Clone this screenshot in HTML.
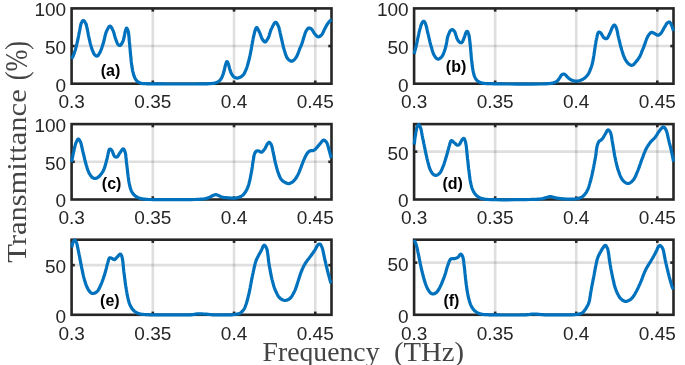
<!DOCTYPE html>
<html><head><meta charset="utf-8"><style>
html,body{margin:0;padding:0;background:#fff;width:685px;height:365px;overflow:hidden}
svg{display:block;will-change:transform}
.t{font-family:"Liberation Sans",sans-serif;font-size:19px;fill:#262626}
.p{font-family:"Liberation Sans",sans-serif;font-size:16px;font-weight:bold;fill:#000}
.s{font-family:"Liberation Serif",serif;font-size:27.5px;fill:#444}
</style></head><body>
<svg width="685" height="365" viewBox="0 0 685 365">
<g><line x1="152.82" y1="8.40" x2="152.82" y2="83.70" stroke="rgba(38,38,38,0.15)" stroke-width="2.6"/><line x1="234.04" y1="8.40" x2="234.04" y2="83.70" stroke="rgba(38,38,38,0.15)" stroke-width="2.6"/><line x1="315.26" y1="8.40" x2="315.26" y2="83.70" stroke="rgba(38,38,38,0.15)" stroke-width="2.6"/><line x1="71.60" y1="46.05" x2="331.50" y2="46.05" stroke="rgba(38,38,38,0.15)" stroke-width="2.6"/><rect x="71.60" y="8.40" width="259.90" height="75.30" fill="none" stroke="#262626" stroke-width="2.6"/><line x1="152.82" y1="8.40" x2="152.82" y2="11.60" stroke="#262626" stroke-width="2.6"/><line x1="152.82" y1="83.70" x2="152.82" y2="80.50" stroke="#262626" stroke-width="2.6"/><line x1="234.04" y1="8.40" x2="234.04" y2="11.60" stroke="#262626" stroke-width="2.6"/><line x1="234.04" y1="83.70" x2="234.04" y2="80.50" stroke="#262626" stroke-width="2.6"/><line x1="315.26" y1="8.40" x2="315.26" y2="11.60" stroke="#262626" stroke-width="2.6"/><line x1="315.26" y1="83.70" x2="315.26" y2="80.50" stroke="#262626" stroke-width="2.6"/><line x1="71.60" y1="46.05" x2="74.80" y2="46.05" stroke="#262626" stroke-width="2.6"/><line x1="331.50" y1="46.05" x2="328.30" y2="46.05" stroke="#262626" stroke-width="2.6"/><text x="71.60" y="108.40" text-anchor="middle" class="t">0.3</text><text x="152.82" y="108.40" text-anchor="middle" class="t">0.35</text><text x="234.04" y="108.40" text-anchor="middle" class="t">0.4</text><text x="315.26" y="108.40" text-anchor="middle" class="t">0.45</text><text x="66.20" y="91.60" text-anchor="end" class="t">0</text><text x="66.20" y="53.95" text-anchor="end" class="t">50</text><text x="66.20" y="16.30" text-anchor="end" class="t">100</text><path d="M71.6,58.8 71.8,58.3 72.1,57.9 72.3,57.5 72.6,57.0 72.8,56.6 73.0,56.1 73.3,55.6 73.5,55.1 73.8,54.4 74.1,53.7 74.3,52.9 74.6,52.2 74.8,51.4 75.1,50.6 75.4,49.7 75.6,48.9 75.9,47.9 76.1,47.0 76.4,46.0 76.6,44.9 76.9,43.9 77.1,42.8 77.4,41.8 77.6,40.7 77.9,39.5 78.1,38.2 78.4,36.8 78.7,35.5 78.9,34.2 79.2,32.9 79.4,31.6 79.7,30.4 79.9,29.4 80.1,28.4 80.2,27.4 80.4,26.5 80.6,25.6 80.8,24.7 81.0,23.9 81.3,23.2 81.5,22.7 81.7,22.3 82.0,21.8 82.2,21.4 82.5,21.1 82.8,20.8 83.0,20.6 83.3,20.5 83.5,20.5 83.8,20.7 84.1,20.9 84.3,21.2 84.6,21.5 84.9,21.9 85.1,22.3 85.3,22.6 85.5,23.0 85.7,23.4 85.9,23.8 86.0,24.2 86.2,24.7 86.3,25.2 86.5,25.7 86.6,26.2 86.8,27.1 87.0,28.0 87.2,29.0 87.5,30.1 87.7,31.2 87.9,32.3 88.1,33.4 88.3,34.5 88.5,35.6 88.8,36.8 89.0,37.9 89.3,39.1 89.5,40.2 89.8,41.3 90.0,42.4 90.3,43.5 90.6,44.4 90.8,45.4 91.1,46.3 91.4,47.2 91.6,48.1 91.9,48.9 92.2,49.7 92.5,50.5 92.7,51.1 93.0,51.6 93.2,52.2 93.4,52.7 93.7,53.2 93.9,53.7 94.2,54.1 94.5,54.5 94.8,54.8 95.1,55.1 95.4,55.4 95.7,55.6 96.0,55.9 96.4,56.0 96.7,56.1 97.0,56.1 97.4,56.0 97.7,55.7 98.1,55.4 98.4,54.9 98.8,54.4 99.1,53.8 99.5,53.3 99.8,52.7 100.3,51.8 100.7,50.8 101.2,49.7 101.6,48.6 102.0,47.3 102.4,46.1 102.8,44.8 103.2,43.6 103.6,42.1 104.0,40.5 104.4,38.8 104.8,37.1 105.2,35.4 105.6,33.8 106.1,32.4 106.6,31.1 107.0,30.3 107.4,29.4 107.8,28.6 108.3,27.8 108.7,27.1 109.1,26.6 109.6,26.2 110.0,26.1 110.4,26.2 110.7,26.5 111.1,26.9 111.5,27.4 111.8,28.0 112.1,28.7 112.5,29.4 112.8,30.0 113.2,31.0 113.6,32.0 114.0,33.2 114.3,34.4 114.6,35.7 115.0,36.9 115.3,38.1 115.7,39.1 116.0,39.9 116.3,40.7 116.6,41.5 116.9,42.3 117.2,43.0 117.5,43.6 117.8,44.2 118.2,44.6 118.4,44.8 118.6,45.0 118.9,45.2 119.1,45.3 119.3,45.4 119.5,45.5 119.8,45.5 120.0,45.5 120.4,45.3 120.7,45.0 121.1,44.6 121.5,44.0 121.9,43.4 122.2,42.8 122.6,42.1 122.9,41.4 123.3,40.3 123.7,39.0 124.0,37.6 124.3,36.1 124.6,34.6 124.8,33.3 125.1,32.0 125.4,31.0 125.6,30.5 125.7,30.0 125.8,29.6 126.0,29.1 126.1,28.8 126.3,28.5 126.4,28.3 126.6,28.2 126.8,28.2 126.9,28.4 127.1,28.6 127.3,29.0 127.5,29.3 127.7,29.7 127.8,30.2 128.0,30.6 128.3,31.7 128.5,33.0 128.7,34.5 128.9,36.2 129.1,37.9 129.2,39.7 129.3,41.4 129.5,43.0 129.7,44.5 129.8,46.0 129.9,47.6 130.1,49.1 130.2,50.6 130.3,52.1 130.5,53.6 130.6,55.0 130.7,56.3 130.9,57.6 131.0,58.9 131.1,60.1 131.2,61.4 131.4,62.6 131.5,63.8 131.7,65.0 131.9,66.1 132.0,67.1 132.2,68.1 132.4,69.1 132.5,70.1 132.7,71.1 133.0,72.1 133.2,73.0 133.4,73.8 133.6,74.6 133.9,75.4 134.1,76.1 134.4,76.8 134.7,77.5 135.0,78.2 135.3,78.8 135.6,79.3 135.9,79.7 136.2,80.1 136.5,80.5 136.9,80.9 137.2,81.3 137.6,81.6 138.0,81.9 138.4,82.2 138.8,82.4 139.2,82.6 139.7,82.8 140.1,83.0 140.6,83.1 141.0,83.2 141.5,83.4 142.0,83.5 142.6,83.6 143.1,83.6 143.7,83.6 144.3,83.7 144.9,83.7 145.4,83.7 146.0,83.7 146.5,83.8 146.9,83.8 147.3,83.8 147.7,83.8 148.2,83.8 148.7,83.8 149.3,83.8 150.0,83.8 154.3,83.9 160.7,83.9 168.6,84.0 177.2,84.0 185.9,84.0 193.9,84.0 200.5,83.9 205.0,83.8 205.9,83.8 206.6,83.8 207.3,83.8 207.8,83.8 208.4,83.7 208.9,83.7 209.4,83.7 210.0,83.6 210.7,83.6 211.3,83.5 212.0,83.5 212.6,83.4 213.3,83.4 214.0,83.3 214.6,83.2 215.2,83.0 215.8,82.8 216.3,82.6 216.9,82.4 217.4,82.1 218.0,81.8 218.5,81.5 219.0,81.2 219.4,80.8 219.8,80.4 220.2,80.0 220.5,79.6 220.8,79.1 221.1,78.7 221.4,78.2 221.7,77.6 222.0,77.1 222.3,76.4 222.6,75.7 222.9,74.9 223.2,74.1 223.4,73.3 223.6,72.4 223.9,71.6 224.1,70.8 224.3,70.0 224.5,69.2 224.7,68.4 224.9,67.6 225.0,66.8 225.2,66.0 225.4,65.3 225.6,64.6 225.8,64.1 225.9,63.6 226.1,63.1 226.2,62.7 226.4,62.3 226.6,61.9 226.7,61.7 226.9,61.6 227.1,61.6 227.2,61.8 227.4,62.0 227.6,62.2 227.7,62.5 227.9,62.8 228.0,63.2 228.2,63.5 228.4,64.1 228.6,64.7 228.8,65.4 229.0,66.2 229.2,67.0 229.4,67.8 229.6,68.6 229.8,69.3 230.0,70.0 230.3,70.7 230.5,71.4 230.7,72.0 231.0,72.7 231.3,73.3 231.6,73.9 231.9,74.5 232.2,74.9 232.5,75.3 232.8,75.7 233.1,76.1 233.4,76.5 233.8,76.8 234.1,77.1 234.5,77.3 234.9,77.5 235.2,77.7 235.6,77.8 236.0,77.9 236.4,78.0 236.8,78.1 237.2,78.1 237.6,78.1 238.1,78.0 238.5,77.9 239.0,77.8 239.5,77.6 240.0,77.3 240.5,77.1 240.9,76.9 241.3,76.6 241.6,76.4 241.9,76.1 242.2,75.9 242.5,75.6 242.8,75.4 243.0,75.1 243.3,74.8 243.5,74.5 243.8,74.1 244.0,73.8 244.2,73.4 244.5,73.0 244.7,72.6 244.9,72.2 245.1,71.7 245.3,71.3 245.5,70.8 245.8,70.3 246.0,69.7 246.2,69.1 246.5,68.6 246.7,68.0 246.9,67.4 247.1,66.8 247.3,66.1 247.5,65.4 247.7,64.7 247.9,64.0 248.1,63.3 248.3,62.5 248.5,61.8 248.7,61.1 248.9,60.4 249.0,59.7 249.2,59.0 249.4,58.3 249.5,57.6 249.7,56.9 249.8,56.2 250.0,55.5 250.2,54.7 250.3,54.0 250.5,53.2 250.6,52.4 250.8,51.6 250.9,50.8 251.1,50.0 251.2,49.2 251.4,48.3 251.5,47.4 251.7,46.5 251.8,45.6 252.0,44.7 252.2,43.8 252.3,42.9 252.5,42.0 252.7,41.2 252.8,40.4 253.0,39.5 253.1,38.7 253.3,37.9 253.5,37.2 253.6,36.4 253.8,35.6 254.0,34.9 254.1,34.2 254.3,33.5 254.5,32.7 254.6,32.1 254.8,31.4 255.0,30.8 255.2,30.2 255.4,29.8 255.5,29.3 255.7,28.9 255.8,28.5 256.0,28.1 256.2,27.8 256.4,27.6 256.6,27.5 256.9,27.6 257.3,28.0 257.6,28.5 258.0,29.2 258.4,30.0 258.8,30.8 259.1,31.6 259.5,32.3 259.9,33.1 260.2,34.0 260.5,34.9 260.9,35.8 261.2,36.7 261.5,37.6 261.9,38.4 262.3,39.1 262.6,39.6 262.9,40.1 263.3,40.6 263.6,41.0 264.0,41.4 264.3,41.7 264.7,41.9 265.0,42.0 265.4,41.9 265.8,41.6 266.2,41.2 266.6,40.6 267.0,40.0 267.4,39.3 267.8,38.7 268.2,38.0 268.7,37.0 269.1,36.0 269.4,34.8 269.8,33.6 270.1,32.4 270.5,31.1 270.9,30.0 271.4,28.9 271.9,27.9 272.4,26.8 272.9,25.7 273.5,24.7 274.0,23.8 274.6,23.0 275.1,22.5 275.6,22.3 276.0,22.4 276.3,22.6 276.6,23.0 277.0,23.4 277.3,24.0 277.6,24.6 277.9,25.2 278.2,25.8 278.7,26.9 279.1,28.2 279.4,29.6 279.8,31.2 280.1,32.8 280.5,34.4 280.8,36.0 281.2,37.5 281.6,39.1 281.9,40.7 282.3,42.3 282.7,44.0 283.1,45.6 283.4,47.2 283.9,48.7 284.3,50.2 284.7,51.4 285.1,52.6 285.4,53.8 285.8,55.0 286.3,56.1 286.7,57.1 287.2,58.0 287.8,58.8 288.2,59.3 288.7,59.7 289.2,60.2 289.7,60.5 290.3,60.8 290.8,61.1 291.3,61.2 291.8,61.2 292.3,61.1 292.9,60.8 293.4,60.4 294.0,60.0 294.5,59.4 295.0,58.8 295.5,58.2 296.0,57.6 296.6,56.7 297.1,55.6 297.6,54.5 298.1,53.2 298.5,52.0 299.0,50.8 299.4,49.6 299.8,48.6 300.1,47.9 300.4,47.2 300.7,46.6 301.0,46.0 301.2,45.3 301.5,44.7 301.7,44.1 302.0,43.4 302.3,42.6 302.5,41.8 302.8,41.0 303.0,40.1 303.3,39.3 303.5,38.4 303.7,37.6 304.0,36.8 304.2,36.1 304.5,35.3 304.7,34.6 304.9,33.9 305.2,33.2 305.4,32.5 305.7,31.9 306.0,31.3 306.3,30.8 306.6,30.3 306.9,29.7 307.3,29.3 307.6,28.8 308.0,28.4 308.3,28.2 308.7,28.0 309.0,28.0 309.4,28.0 309.7,28.1 310.0,28.2 310.4,28.4 310.7,28.6 311.1,28.8 311.4,29.1 311.9,29.5 312.3,30.1 312.7,30.7 313.1,31.4 313.6,32.1 314.0,32.8 314.4,33.4 314.9,34.0 315.3,34.4 315.7,34.9 316.1,35.4 316.6,35.8 317.0,36.2 317.4,36.5 317.9,36.7 318.3,36.8 318.7,36.8 319.1,36.7 319.6,36.5 320.0,36.2 320.4,35.9 320.8,35.6 321.2,35.2 321.6,34.8 322.1,34.2 322.5,33.6 322.9,32.8 323.3,32.0 323.7,31.2 324.0,30.4 324.4,29.6 324.8,28.8 325.2,28.1 325.6,27.3 326.0,26.6 326.4,25.8 326.8,25.1 327.2,24.4 327.6,23.8 328.0,23.2 328.3,22.8 328.7,22.3 329.0,21.9 329.3,21.5 329.7,21.2 330.0,20.9 330.3,20.6 330.6,20.4 330.7,20.3 330.9,20.3 331.0,20.2 331.1,20.2 331.2,20.2 331.4,20.2 331.5,20.1 331.6,20.1" fill="none" stroke="#0072bd" stroke-width="3.2" stroke-linejoin="round" stroke-linecap="butt"/><text x="100.70" y="76.30" class="p">(a)</text></g>
<g><line x1="495.16" y1="8.40" x2="495.16" y2="83.70" stroke="rgba(38,38,38,0.15)" stroke-width="2.6"/><line x1="576.23" y1="8.40" x2="576.23" y2="83.70" stroke="rgba(38,38,38,0.15)" stroke-width="2.6"/><line x1="657.29" y1="8.40" x2="657.29" y2="83.70" stroke="rgba(38,38,38,0.15)" stroke-width="2.6"/><line x1="414.10" y1="46.05" x2="673.50" y2="46.05" stroke="rgba(38,38,38,0.15)" stroke-width="2.6"/><rect x="414.10" y="8.40" width="259.40" height="75.30" fill="none" stroke="#262626" stroke-width="2.6"/><line x1="495.16" y1="8.40" x2="495.16" y2="11.60" stroke="#262626" stroke-width="2.6"/><line x1="495.16" y1="83.70" x2="495.16" y2="80.50" stroke="#262626" stroke-width="2.6"/><line x1="576.23" y1="8.40" x2="576.23" y2="11.60" stroke="#262626" stroke-width="2.6"/><line x1="576.23" y1="83.70" x2="576.23" y2="80.50" stroke="#262626" stroke-width="2.6"/><line x1="657.29" y1="8.40" x2="657.29" y2="11.60" stroke="#262626" stroke-width="2.6"/><line x1="657.29" y1="83.70" x2="657.29" y2="80.50" stroke="#262626" stroke-width="2.6"/><line x1="414.10" y1="46.05" x2="417.30" y2="46.05" stroke="#262626" stroke-width="2.6"/><line x1="673.50" y1="46.05" x2="670.30" y2="46.05" stroke="#262626" stroke-width="2.6"/><text x="414.10" y="108.40" text-anchor="middle" class="t">0.3</text><text x="495.16" y="108.40" text-anchor="middle" class="t">0.35</text><text x="576.23" y="108.40" text-anchor="middle" class="t">0.4</text><text x="657.29" y="108.40" text-anchor="middle" class="t">0.45</text><text x="408.70" y="91.60" text-anchor="end" class="t">0</text><text x="408.70" y="53.95" text-anchor="end" class="t">50</text><text x="408.70" y="16.30" text-anchor="end" class="t">100</text><path d="M414.2,53.8 414.5,52.5 414.8,51.2 415.2,49.9 415.5,48.6 415.8,47.3 416.1,45.9 416.5,44.6 416.8,43.2 417.2,41.5 417.5,39.8 417.9,38.0 418.3,36.2 418.7,34.4 419.0,32.7 419.4,31.1 419.8,29.6 420.1,28.6 420.4,27.6 420.6,26.6 420.9,25.7 421.2,24.9 421.5,24.1 421.8,23.4 422.1,22.8 422.3,22.5 422.5,22.2 422.6,22.0 422.8,21.8 423.0,21.6 423.2,21.4 423.4,21.3 423.6,21.3 423.8,21.3 424.0,21.4 424.2,21.6 424.4,21.7 424.5,22.0 424.7,22.2 424.9,22.5 425.1,22.8 425.5,23.7 425.9,24.9 426.3,26.3 426.7,27.8 427.0,29.4 427.4,31.1 427.7,32.7 428.1,34.2 428.5,35.7 428.8,37.2 429.2,38.8 429.6,40.3 429.9,41.8 430.3,43.3 430.7,44.8 431.1,46.2 431.5,47.4 431.8,48.7 432.1,49.9 432.5,51.1 432.9,52.3 433.3,53.4 433.7,54.4 434.2,55.3 434.6,55.9 435.0,56.6 435.5,57.2 435.9,57.8 436.4,58.3 436.9,58.7 437.4,59.0 437.9,59.1 438.4,59.1 438.8,59.0 439.3,58.8 439.8,58.5 440.3,58.1 440.8,57.7 441.3,57.3 441.7,56.8 442.3,56.0 442.8,55.0 443.4,53.9 443.8,52.8 444.3,51.5 444.7,50.2 445.1,49.0 445.5,47.7 445.9,46.3 446.2,44.8 446.5,43.2 446.8,41.7 447.0,40.1 447.3,38.7 447.6,37.3 448.0,36.0 448.3,35.1 448.6,34.3 449.0,33.4 449.3,32.6 449.7,31.9 450.0,31.2 450.4,30.7 450.8,30.3 451.0,30.1 451.2,30.0 451.4,29.9 451.6,29.8 451.9,29.7 452.1,29.7 452.3,29.7 452.5,29.7 452.8,29.8 453.0,29.9 453.3,30.1 453.6,30.3 453.8,30.6 454.1,30.9 454.4,31.3 454.6,31.6 455.0,32.3 455.3,33.2 455.6,34.2 455.9,35.2 456.3,36.3 456.6,37.3 456.9,38.3 457.3,39.1 457.6,39.6 457.9,40.2 458.3,40.7 458.6,41.2 459.0,41.6 459.3,42.0 459.7,42.3 460.0,42.5 460.2,42.6 460.5,42.7 460.7,42.7 460.9,42.7 461.1,42.7 461.4,42.7 461.6,42.6 461.8,42.5 462.2,42.1 462.6,41.6 462.9,40.9 463.2,40.1 463.6,39.2 463.9,38.4 464.2,37.5 464.5,36.8 464.8,36.1 465.0,35.4 465.2,34.7 465.5,33.9 465.7,33.2 465.9,32.6 466.2,32.2 466.4,31.8 466.5,31.7 466.6,31.6 466.7,31.5 466.9,31.4 467.0,31.4 467.1,31.4 467.2,31.4 467.3,31.4 467.5,31.5 467.7,31.7 467.8,32.0 468.0,32.3 468.1,32.6 468.3,33.0 468.5,33.5 468.6,33.9 468.9,34.9 469.1,36.0 469.3,37.3 469.5,38.7 469.7,40.2 469.9,41.8 470.0,43.3 470.2,44.8 470.4,46.6 470.6,48.5 470.7,50.4 470.9,52.4 471.1,54.4 471.2,56.3 471.4,58.2 471.6,60.0 471.8,61.4 471.9,62.8 472.1,64.2 472.2,65.5 472.4,66.8 472.6,68.1 472.8,69.3 473.0,70.5 473.2,71.4 473.4,72.3 473.6,73.2 473.8,74.0 474.0,74.8 474.2,75.6 474.5,76.3 474.8,77.0 475.1,77.5 475.3,78.1 475.6,78.6 475.9,79.0 476.2,79.5 476.6,79.9 476.9,80.3 477.3,80.7 477.7,81.0 478.0,81.3 478.4,81.6 478.8,81.8 479.2,82.0 479.6,82.3 480.1,82.5 480.5,82.6 481.0,82.8 481.5,83.0 482.1,83.1 482.7,83.2 483.2,83.3 483.8,83.3 484.4,83.4 485.0,83.5 485.6,83.5 486.1,83.6 486.6,83.6 487.1,83.7 487.7,83.7 488.4,83.7 489.1,83.7 490.0,83.7 494.4,83.8 500.8,83.9 508.6,84.0 517.0,84.1 525.6,84.1 533.5,84.1 540.2,84.0 545.0,83.8 546.2,83.8 547.3,83.7 548.3,83.7 549.1,83.6 549.9,83.5 550.7,83.4 551.4,83.3 552.2,83.1 552.8,83.0 553.5,82.8 554.1,82.6 554.7,82.5 555.3,82.2 555.8,82.0 556.3,81.7 556.8,81.4 557.2,81.1 557.6,80.7 557.9,80.3 558.3,79.9 558.6,79.4 558.9,79.0 559.2,78.5 559.5,78.1 559.8,77.7 560.1,77.2 560.3,76.8 560.6,76.4 560.9,75.9 561.1,75.5 561.4,75.2 561.7,74.9 561.9,74.7 562.2,74.5 562.4,74.4 562.6,74.3 562.9,74.1 563.1,74.1 563.4,74.0 563.6,74.0 563.8,74.0 564.1,74.1 564.3,74.2 564.5,74.3 564.7,74.4 565.0,74.6 565.2,74.7 565.4,74.9 565.7,75.1 565.9,75.4 566.2,75.7 566.5,76.0 566.7,76.3 567.0,76.6 567.3,76.9 567.6,77.2 568.0,77.5 568.4,77.9 568.8,78.3 569.3,78.6 569.7,79.0 570.2,79.3 570.7,79.6 571.2,79.9 571.7,80.1 572.3,80.4 572.9,80.6 573.4,80.8 574.0,80.9 574.6,81.0 575.2,81.1 575.8,81.2 576.4,81.2 576.9,81.2 577.5,81.1 578.1,81.0 578.7,80.9 579.2,80.8 579.8,80.6 580.3,80.4 580.8,80.3 581.3,80.1 581.8,79.8 582.3,79.6 582.8,79.3 583.3,79.0 583.7,78.7 584.2,78.4 584.7,78.0 585.2,77.6 585.7,77.1 586.2,76.6 586.7,76.1 587.2,75.5 587.6,75.0 588.0,74.4 588.4,73.8 588.8,73.2 589.1,72.5 589.4,71.8 589.7,71.2 590.0,70.5 590.3,69.7 590.6,69.0 590.9,68.1 591.2,67.3 591.5,66.4 591.8,65.4 592.1,64.5 592.3,63.5 592.6,62.5 592.8,61.5 593.1,60.2 593.3,58.9 593.5,57.5 593.8,56.1 594.0,54.7 594.2,53.3 594.4,51.9 594.6,50.5 594.8,49.1 595.0,47.7 595.2,46.3 595.4,44.9 595.7,43.5 595.9,42.1 596.1,40.8 596.4,39.5 596.6,38.4 596.9,37.3 597.1,36.2 597.3,35.1 597.6,34.1 597.9,33.2 598.2,32.6 598.6,32.2 598.8,32.1 599.1,32.1 599.3,32.1 599.6,32.2 599.8,32.3 600.1,32.5 600.4,32.6 600.6,32.8 601.0,33.2 601.4,33.7 601.7,34.4 602.1,35.1 602.5,35.8 602.9,36.5 603.3,37.1 603.7,37.5 604.0,37.8 604.4,38.0 604.8,38.2 605.2,38.4 605.5,38.6 605.9,38.7 606.3,38.7 606.6,38.6 607.1,38.3 607.5,37.9 607.9,37.3 608.3,36.5 608.7,35.8 609.1,34.9 609.4,34.1 609.8,33.4 610.2,32.6 610.6,31.7 611.0,30.7 611.3,29.8 611.7,28.8 612.1,28.0 612.4,27.2 612.8,26.6 613.0,26.3 613.2,26.0 613.4,25.7 613.6,25.5 613.8,25.3 614.0,25.1 614.2,25.0 614.4,25.0 614.6,25.1 614.9,25.3 615.1,25.5 615.3,25.9 615.5,26.3 615.8,26.7 616.0,27.2 616.2,27.7 616.6,28.7 616.9,30.0 617.3,31.4 617.6,32.9 617.9,34.5 618.2,36.1 618.6,37.6 618.9,39.1 619.3,40.5 619.6,42.0 620.0,43.4 620.3,44.9 620.7,46.3 621.1,47.8 621.5,49.1 621.9,50.5 622.3,51.7 622.7,52.9 623.0,54.1 623.4,55.3 623.9,56.4 624.3,57.5 624.8,58.5 625.3,59.5 625.8,60.3 626.2,61.0 626.7,61.7 627.3,62.4 627.8,63.1 628.3,63.6 628.9,64.1 629.4,64.5 629.8,64.7 630.2,64.9 630.6,65.1 631.0,65.2 631.3,65.3 631.7,65.3 632.1,65.3 632.5,65.2 633.0,65.0 633.5,64.7 633.9,64.2 634.4,63.7 634.9,63.2 635.3,62.6 635.8,62.0 636.2,61.5 636.6,61.0 637.1,60.5 637.5,59.9 637.9,59.4 638.3,58.8 638.7,58.2 639.1,57.6 639.5,57.0 639.9,56.3 640.3,55.5 640.6,54.7 641.0,53.8 641.3,53.0 641.6,52.1 642.0,51.3 642.3,50.5 642.6,49.8 642.9,49.0 643.2,48.3 643.5,47.6 643.8,46.9 644.1,46.1 644.3,45.4 644.6,44.7 644.9,44.0 645.1,43.2 645.3,42.5 645.6,41.8 645.8,41.1 646.1,40.3 646.3,39.7 646.6,39.0 646.8,38.5 647.1,37.9 647.3,37.4 647.6,36.9 647.8,36.4 648.1,35.9 648.4,35.4 648.7,35.0 649.0,34.6 649.3,34.2 649.7,33.8 650.0,33.4 650.4,33.0 650.7,32.7 651.1,32.5 651.5,32.4 651.9,32.4 652.3,32.4 652.7,32.6 653.1,32.8 653.5,33.0 653.9,33.2 654.3,33.4 654.7,33.6 655.1,33.8 655.5,34.1 655.9,34.3 656.3,34.6 656.7,34.8 657.0,35.0 657.4,35.2 657.8,35.2 658.2,35.2 658.6,35.0 658.9,34.9 659.3,34.6 659.7,34.4 660.1,34.1 660.4,33.7 660.8,33.4 661.3,32.8 661.8,32.1 662.2,31.3 662.7,30.5 663.2,29.6 663.6,28.8 664.0,28.0 664.5,27.2 664.9,26.6 665.3,25.9 665.7,25.3 666.1,24.6 666.4,24.0 666.8,23.5 667.2,23.1 667.6,22.7 667.8,22.5 668.1,22.4 668.3,22.2 668.6,22.1 668.8,22.0 669.1,22.0 669.3,22.0 669.5,22.0 669.8,22.1 670.0,22.3 670.2,22.6 670.5,23.0 670.7,23.3 670.9,23.8 671.1,24.2 671.3,24.6 671.6,25.3 671.9,26.0 672.2,26.8 672.4,27.6 672.7,28.5 673.0,29.3 673.2,30.2 673.5,31.0" fill="none" stroke="#0072bd" stroke-width="3.2" stroke-linejoin="round" stroke-linecap="butt"/><text x="445.80" y="71.50" class="p">(b)</text></g>
<g><line x1="152.82" y1="124.10" x2="152.82" y2="199.50" stroke="rgba(38,38,38,0.15)" stroke-width="2.6"/><line x1="234.04" y1="124.10" x2="234.04" y2="199.50" stroke="rgba(38,38,38,0.15)" stroke-width="2.6"/><line x1="315.26" y1="124.10" x2="315.26" y2="199.50" stroke="rgba(38,38,38,0.15)" stroke-width="2.6"/><line x1="71.60" y1="161.80" x2="331.50" y2="161.80" stroke="rgba(38,38,38,0.15)" stroke-width="2.6"/><rect x="71.60" y="124.10" width="259.90" height="75.40" fill="none" stroke="#262626" stroke-width="2.6"/><line x1="152.82" y1="124.10" x2="152.82" y2="127.30" stroke="#262626" stroke-width="2.6"/><line x1="152.82" y1="199.50" x2="152.82" y2="196.30" stroke="#262626" stroke-width="2.6"/><line x1="234.04" y1="124.10" x2="234.04" y2="127.30" stroke="#262626" stroke-width="2.6"/><line x1="234.04" y1="199.50" x2="234.04" y2="196.30" stroke="#262626" stroke-width="2.6"/><line x1="315.26" y1="124.10" x2="315.26" y2="127.30" stroke="#262626" stroke-width="2.6"/><line x1="315.26" y1="199.50" x2="315.26" y2="196.30" stroke="#262626" stroke-width="2.6"/><line x1="71.60" y1="161.80" x2="74.80" y2="161.80" stroke="#262626" stroke-width="2.6"/><line x1="331.50" y1="161.80" x2="328.30" y2="161.80" stroke="#262626" stroke-width="2.6"/><text x="71.60" y="224.20" text-anchor="middle" class="t">0.3</text><text x="152.82" y="224.20" text-anchor="middle" class="t">0.35</text><text x="234.04" y="224.20" text-anchor="middle" class="t">0.4</text><text x="315.26" y="224.20" text-anchor="middle" class="t">0.45</text><text x="66.20" y="207.40" text-anchor="end" class="t">0</text><text x="66.20" y="169.70" text-anchor="end" class="t">50</text><text x="66.20" y="132.00" text-anchor="end" class="t">100</text><path d="M71.6,162.0 71.9,160.7 72.1,159.3 72.4,157.9 72.7,156.6 72.9,155.2 73.2,153.9 73.5,152.6 73.8,151.3 74.1,150.1 74.3,148.9 74.6,147.7 74.9,146.4 75.2,145.3 75.5,144.2 75.8,143.2 76.2,142.3 76.5,141.7 76.7,141.2 77.0,140.6 77.3,140.1 77.6,139.7 77.8,139.3 78.1,139.1 78.4,139.0 78.6,139.1 78.9,139.2 79.1,139.5 79.4,139.8 79.6,140.2 79.9,140.6 80.1,141.1 80.3,141.5 80.7,142.4 81.0,143.4 81.3,144.6 81.6,145.9 81.9,147.2 82.2,148.6 82.5,150.0 82.8,151.3 83.2,152.9 83.6,154.5 84.0,156.2 84.4,157.9 84.8,159.7 85.2,161.3 85.7,163.0 86.1,164.5 86.5,165.8 86.9,167.0 87.2,168.2 87.6,169.4 88.0,170.6 88.5,171.7 88.9,172.7 89.4,173.6 89.8,174.2 90.2,174.9 90.6,175.5 91.0,176.0 91.4,176.5 91.8,177.0 92.3,177.4 92.7,177.7 93.0,177.9 93.3,178.1 93.6,178.2 93.9,178.3 94.2,178.4 94.6,178.5 94.9,178.5 95.2,178.5 95.6,178.4 96.0,178.3 96.4,178.2 96.8,178.0 97.2,177.8 97.7,177.5 98.1,177.2 98.5,176.9 99.1,176.3 99.8,175.7 100.5,174.9 101.1,174.1 101.8,173.2 102.4,172.2 103.0,171.3 103.5,170.3 104.0,169.1 104.5,167.9 104.9,166.5 105.3,165.2 105.7,163.8 106.1,162.4 106.4,161.0 106.8,159.6 107.2,158.1 107.5,156.5 107.9,154.8 108.2,153.1 108.6,151.6 108.9,150.4 109.3,149.4 109.8,149.0 110.0,149.0 110.3,149.0 110.5,149.2 110.8,149.3 111.1,149.6 111.3,149.8 111.6,150.1 111.8,150.4 112.2,151.0 112.5,151.7 112.8,152.6 113.2,153.5 113.5,154.4 113.8,155.2 114.2,155.9 114.6,156.4 114.9,156.6 115.1,156.8 115.4,156.9 115.7,157.0 116.0,157.1 116.3,157.1 116.6,157.1 116.9,157.0 117.3,156.8 117.7,156.4 118.0,155.9 118.4,155.4 118.7,154.7 119.1,154.1 119.4,153.5 119.8,153.0 120.2,152.4 120.7,151.8 121.1,151.1 121.6,150.4 122.0,149.8 122.4,149.3 122.8,149.0 123.2,148.9 123.5,149.0 123.7,149.2 124.0,149.5 124.2,149.9 124.4,150.3 124.6,150.8 124.8,151.3 125.0,151.8 125.3,152.8 125.6,154.1 125.8,155.5 125.9,156.9 126.1,158.5 126.3,160.1 126.4,161.7 126.6,163.2 126.8,164.9 127.0,166.6 127.2,168.3 127.4,170.1 127.6,171.8 127.8,173.6 128.0,175.2 128.2,176.8 128.4,178.1 128.6,179.3 128.7,180.5 128.9,181.7 129.1,182.8 129.3,183.9 129.6,185.0 129.8,186.0 130.0,186.8 130.2,187.6 130.4,188.4 130.7,189.1 130.9,189.8 131.2,190.5 131.5,191.2 131.8,191.8 132.1,192.3 132.4,192.8 132.7,193.3 133.0,193.7 133.4,194.1 133.7,194.5 134.1,194.9 134.5,195.3 134.9,195.6 135.3,196.0 135.7,196.3 136.1,196.5 136.5,196.8 136.9,197.1 137.4,197.3 137.8,197.5 138.3,197.7 138.8,197.9 139.3,198.1 139.8,198.3 140.4,198.4 140.9,198.6 141.4,198.7 142.0,198.8 142.6,198.9 143.2,199.0 143.9,199.1 144.5,199.2 145.2,199.2 145.8,199.3 146.4,199.3 147.0,199.4 147.4,199.4 147.7,199.4 148.0,199.5 148.3,199.5 148.6,199.5 149.0,199.5 149.5,199.5 150.0,199.5 153.3,199.6 158.3,199.6 164.4,199.7 171.2,199.7 178.1,199.7 184.8,199.7 190.5,199.6 195.0,199.5 196.6,199.4 198.1,199.4 199.5,199.3 200.8,199.2 202.0,199.1 203.1,199.0 204.2,198.9 205.2,198.7 205.9,198.5 206.6,198.3 207.3,198.1 208.0,197.9 208.6,197.7 209.2,197.4 209.7,197.2 210.3,196.9 210.7,196.7 211.1,196.5 211.5,196.3 211.9,196.1 212.3,195.8 212.7,195.6 213.0,195.5 213.4,195.3 213.7,195.2 214.0,195.1 214.3,195.0 214.7,194.9 215.0,194.8 215.3,194.7 215.6,194.7 215.9,194.7 216.2,194.7 216.5,194.8 216.8,194.9 217.2,195.0 217.5,195.1 217.8,195.2 218.1,195.4 218.5,195.5 219.0,195.7 219.4,195.9 219.9,196.2 220.4,196.4 220.9,196.7 221.5,196.9 222.0,197.1 222.6,197.3 223.3,197.4 224.0,197.6 224.8,197.6 225.6,197.7 226.4,197.7 227.2,197.8 227.9,197.8 228.7,197.9 229.4,197.9 230.2,198.0 230.9,198.0 231.6,198.1 232.4,198.1 233.1,198.1 233.8,198.1 234.5,198.1 235.2,198.0 235.8,198.0 236.4,197.9 237.1,197.8 237.7,197.6 238.3,197.5 238.9,197.3 239.5,197.1 240.0,196.8 240.6,196.6 241.1,196.3 241.6,196.0 242.1,195.6 242.6,195.3 243.1,194.9 243.5,194.5 243.9,194.1 244.3,193.6 244.7,193.1 245.0,192.6 245.4,192.1 245.7,191.6 246.0,191.0 246.3,190.5 246.6,189.9 246.9,189.3 247.2,188.7 247.4,188.1 247.7,187.5 247.9,186.8 248.2,186.2 248.4,185.5 248.7,184.7 248.9,183.9 249.1,183.0 249.4,182.1 249.6,181.2 249.8,180.3 250.0,179.4 250.2,178.5 250.4,177.5 250.6,176.5 250.8,175.4 251.0,174.3 251.2,173.3 251.4,172.2 251.6,171.1 251.8,170.0 252.0,168.8 252.2,167.5 252.4,166.2 252.5,164.9 252.7,163.6 252.9,162.4 253.1,161.2 253.3,160.0 253.5,159.1 253.6,158.2 253.7,157.3 253.9,156.4 254.0,155.6 254.2,154.9 254.4,154.1 254.7,153.5 254.9,153.1 255.1,152.7 255.3,152.3 255.5,152.0 255.8,151.7 256.0,151.4 256.3,151.2 256.6,151.0 256.9,150.9 257.2,150.9 257.5,150.8 257.8,150.9 258.1,150.9 258.4,151.0 258.7,151.0 259.0,151.1 259.3,151.2 259.6,151.4 259.9,151.6 260.2,151.8 260.5,152.0 260.8,152.1 261.1,152.2 261.4,152.2 261.8,152.1 262.2,151.8 262.7,151.4 263.1,151.0 263.5,150.5 263.9,149.9 264.3,149.4 264.7,148.9 265.1,148.3 265.5,147.6 265.9,146.8 266.3,146.0 266.6,145.3 267.0,144.6 267.3,144.0 267.7,143.5 267.9,143.3 268.1,143.0 268.3,142.8 268.5,142.6 268.7,142.5 268.9,142.4 269.1,142.3 269.3,142.3 269.6,142.4 269.8,142.6 270.1,142.8 270.3,143.1 270.6,143.5 270.8,143.9 271.1,144.4 271.3,144.8 271.6,145.6 271.9,146.5 272.2,147.5 272.4,148.5 272.6,149.6 272.8,150.8 273.1,151.9 273.3,153.0 273.6,154.2 273.8,155.4 274.1,156.7 274.3,157.9 274.6,159.2 274.8,160.4 275.1,161.7 275.4,162.9 275.7,164.1 276.0,165.2 276.3,166.4 276.6,167.5 276.9,168.6 277.2,169.7 277.5,170.8 277.9,171.9 278.3,172.9 278.6,173.9 279.0,174.9 279.3,175.9 279.8,176.8 280.2,177.7 280.7,178.6 281.2,179.3 281.7,179.9 282.2,180.4 282.8,180.9 283.4,181.4 284.0,181.8 284.7,182.2 285.2,182.5 285.8,182.8 286.2,183.0 286.6,183.2 286.9,183.3 287.3,183.4 287.7,183.5 288.0,183.6 288.4,183.6 288.8,183.6 289.3,183.5 289.7,183.4 290.2,183.2 290.7,183.0 291.2,182.8 291.6,182.5 292.1,182.3 292.5,182.0 292.9,181.7 293.2,181.5 293.5,181.2 293.8,180.9 294.1,180.5 294.4,180.2 294.7,179.9 295.0,179.5 295.3,179.1 295.7,178.6 296.0,178.1 296.3,177.6 296.6,177.1 296.9,176.6 297.2,176.0 297.5,175.5 297.8,175.0 298.1,174.4 298.3,173.9 298.6,173.3 298.9,172.7 299.1,172.2 299.4,171.6 299.6,171.0 299.8,170.4 300.1,169.8 300.3,169.2 300.5,168.6 300.7,168.0 301.0,167.4 301.2,166.8 301.4,166.2 301.6,165.7 301.8,165.1 302.0,164.6 302.2,164.1 302.4,163.6 302.6,163.0 302.8,162.5 303.0,162.0 303.2,161.5 303.4,161.0 303.6,160.5 303.8,160.0 304.0,159.5 304.3,159.0 304.5,158.5 304.7,158.0 304.9,157.5 305.1,157.0 305.4,156.6 305.6,156.1 305.8,155.6 306.1,155.2 306.3,154.7 306.6,154.3 306.9,153.9 307.1,153.5 307.4,153.2 307.6,152.8 307.9,152.5 308.2,152.1 308.5,151.8 308.8,151.6 309.1,151.4 309.3,151.3 309.6,151.1 309.9,151.0 310.2,150.9 310.4,150.8 310.7,150.8 311.0,150.7 311.3,150.7 311.5,150.6 311.8,150.7 312.0,150.7 312.3,150.7 312.5,150.7 312.8,150.7 313.0,150.6 313.3,150.5 313.6,150.4 313.8,150.2 314.1,150.1 314.4,149.9 314.7,149.7 314.9,149.5 315.2,149.3 315.4,149.1 315.7,148.9 315.9,148.6 316.1,148.4 316.3,148.1 316.5,147.9 316.8,147.6 317.0,147.3 317.4,146.9 317.8,146.4 318.2,146.0 318.6,145.5 319.0,145.0 319.4,144.5 319.9,144.0 320.3,143.5 320.7,143.0 321.1,142.5 321.5,141.9 321.9,141.4 322.4,140.9 322.8,140.5 323.2,140.2 323.6,140.1 324.0,140.1 324.3,140.3 324.7,140.5 325.1,140.8 325.5,141.1 325.8,141.5 326.2,141.9 326.5,142.3 326.9,143.0 327.3,143.8 327.6,144.7 327.9,145.7 328.2,146.7 328.5,147.7 328.7,148.7 329.0,149.7 329.3,150.7 329.6,151.8 329.9,152.8 330.1,153.9 330.4,154.9 330.7,156.0 330.9,157.0 331.2,158.1" fill="none" stroke="#0072bd" stroke-width="3.2" stroke-linejoin="round" stroke-linecap="butt"/><text x="101.80" y="189.40" class="p">(c)</text></g>
<g><line x1="495.16" y1="124.10" x2="495.16" y2="199.50" stroke="rgba(38,38,38,0.15)" stroke-width="2.6"/><line x1="576.23" y1="124.10" x2="576.23" y2="199.50" stroke="rgba(38,38,38,0.15)" stroke-width="2.6"/><line x1="657.29" y1="124.10" x2="657.29" y2="199.50" stroke="rgba(38,38,38,0.15)" stroke-width="2.6"/><line x1="414.10" y1="151.66" x2="673.50" y2="151.66" stroke="rgba(38,38,38,0.15)" stroke-width="2.6"/><rect x="414.10" y="124.10" width="259.40" height="75.40" fill="none" stroke="#262626" stroke-width="2.6"/><line x1="495.16" y1="124.10" x2="495.16" y2="127.30" stroke="#262626" stroke-width="2.6"/><line x1="495.16" y1="199.50" x2="495.16" y2="196.30" stroke="#262626" stroke-width="2.6"/><line x1="576.23" y1="124.10" x2="576.23" y2="127.30" stroke="#262626" stroke-width="2.6"/><line x1="576.23" y1="199.50" x2="576.23" y2="196.30" stroke="#262626" stroke-width="2.6"/><line x1="657.29" y1="124.10" x2="657.29" y2="127.30" stroke="#262626" stroke-width="2.6"/><line x1="657.29" y1="199.50" x2="657.29" y2="196.30" stroke="#262626" stroke-width="2.6"/><line x1="414.10" y1="151.66" x2="417.30" y2="151.66" stroke="#262626" stroke-width="2.6"/><line x1="673.50" y1="151.66" x2="670.30" y2="151.66" stroke="#262626" stroke-width="2.6"/><text x="414.10" y="224.20" text-anchor="middle" class="t">0.3</text><text x="495.16" y="224.20" text-anchor="middle" class="t">0.35</text><text x="576.23" y="224.20" text-anchor="middle" class="t">0.4</text><text x="657.29" y="224.20" text-anchor="middle" class="t">0.45</text><text x="408.70" y="207.40" text-anchor="end" class="t">0</text><text x="408.70" y="159.56" text-anchor="end" class="t">50</text><path d="M414.2,144.5 414.3,143.4 414.5,142.4 414.6,141.3 414.7,140.2 414.8,139.2 415.0,138.1 415.1,137.1 415.3,136.0 415.5,134.9 415.7,133.8 415.8,132.6 416.0,131.5 416.3,130.3 416.5,129.3 416.7,128.3 417.0,127.5 417.2,127.0 417.4,126.5 417.6,126.0 417.8,125.6 418.0,125.2 418.2,124.9 418.4,124.7 418.6,124.6 418.8,124.6 419.0,124.8 419.2,125.0 419.5,125.4 419.7,125.7 419.9,126.1 420.1,126.6 420.3,127.0 420.6,127.9 420.9,129.0 421.2,130.2 421.5,131.5 421.7,132.8 422.0,134.2 422.2,135.6 422.5,137.0 422.8,138.6 423.2,140.2 423.5,141.9 423.8,143.5 424.2,145.2 424.5,146.9 424.9,148.6 425.2,150.2 425.5,151.7 425.8,153.2 426.1,154.7 426.5,156.2 426.8,157.6 427.1,159.1 427.5,160.5 427.8,161.8 428.1,162.9 428.4,164.0 428.7,165.1 429.0,166.2 429.3,167.2 429.6,168.2 430.0,169.1 430.4,170.0 430.7,170.7 431.1,171.3 431.5,172.0 431.8,172.6 432.2,173.2 432.6,173.7 433.1,174.1 433.5,174.5 433.8,174.7 434.2,174.9 434.5,175.1 434.9,175.2 435.2,175.3 435.6,175.3 435.9,175.3 436.3,175.3 436.7,175.2 437.2,175.0 437.6,174.8 438.1,174.5 438.5,174.2 439.0,173.8 439.4,173.4 439.8,173.0 440.3,172.4 440.7,171.8 441.1,171.0 441.5,170.3 441.8,169.5 442.2,168.6 442.5,167.8 442.9,166.9 443.3,165.8 443.8,164.6 444.2,163.4 444.6,162.1 445.0,160.9 445.4,159.6 445.8,158.3 446.2,157.0 446.6,155.7 447.0,154.3 447.4,152.9 447.7,151.5 448.1,150.1 448.5,148.7 448.8,147.5 449.2,146.3 449.5,145.4 449.7,144.5 450.0,143.6 450.2,142.7 450.5,141.9 450.7,141.3 451.1,140.8 451.4,140.6 451.7,140.6 451.9,140.7 452.2,140.9 452.5,141.1 452.8,141.4 453.2,141.7 453.5,142.0 453.8,142.3 454.2,142.7 454.7,143.1 455.2,143.5 455.7,144.0 456.1,144.4 456.6,144.8 457.1,145.1 457.5,145.2 457.8,145.2 458.0,145.2 458.3,145.1 458.5,145.0 458.8,144.9 459.0,144.7 459.3,144.5 459.5,144.3 459.8,143.9 460.1,143.4 460.4,142.8 460.7,142.2 461.0,141.6 461.3,141.0 461.6,140.4 461.9,140.0 462.1,139.7 462.4,139.4 462.6,139.1 462.9,138.9 463.1,138.7 463.4,138.5 463.6,138.4 463.8,138.4 464.0,138.5 464.3,138.7 464.5,139.1 464.7,139.5 464.9,140.0 465.0,140.5 465.2,141.0 465.4,141.6 465.7,142.9 466.0,144.5 466.3,146.3 466.5,148.3 466.7,150.3 466.9,152.4 467.1,154.4 467.3,156.4 467.5,158.4 467.8,160.4 468.0,162.4 468.2,164.5 468.4,166.5 468.6,168.5 468.9,170.4 469.1,172.3 469.3,173.9 469.5,175.4 469.7,177.0 469.9,178.5 470.1,180.0 470.4,181.4 470.6,182.7 470.9,184.0 471.1,184.9 471.4,185.8 471.6,186.7 471.8,187.5 472.1,188.3 472.4,189.0 472.7,189.8 473.0,190.5 473.3,191.1 473.6,191.7 473.9,192.3 474.3,192.8 474.6,193.3 475.0,193.9 475.4,194.3 475.8,194.8 476.2,195.2 476.6,195.6 477.0,196.0 477.5,196.3 477.9,196.6 478.4,197.0 478.8,197.2 479.3,197.5 479.8,197.8 480.3,198.0 480.8,198.2 481.3,198.4 481.9,198.5 482.4,198.7 483.0,198.8 483.5,198.9 484.0,199.0 484.5,199.1 485.0,199.2 485.4,199.3 486.0,199.3 486.5,199.4 487.2,199.4 488.0,199.5 491.4,199.6 496.1,199.7 501.8,199.8 508.0,199.8 514.3,199.7 520.4,199.7 525.7,199.6 530.0,199.5 531.8,199.4 533.5,199.4 535.0,199.3 536.4,199.3 537.7,199.2 539.0,199.1 540.2,199.0 541.4,198.8 542.2,198.7 543.0,198.5 543.7,198.3 544.4,198.1 545.1,197.9 545.7,197.7 546.4,197.6 547.0,197.4 547.5,197.3 548.0,197.1 548.4,197.0 548.9,196.9 549.3,196.7 549.8,196.7 550.2,196.6 550.7,196.6 551.2,196.6 551.7,196.7 552.2,196.9 552.7,197.1 553.3,197.2 553.8,197.4 554.4,197.6 555.0,197.8 556.0,197.9 557.0,198.1 558.1,198.3 559.2,198.4 560.4,198.6 561.6,198.7 562.9,198.8 564.1,198.9 565.6,199.0 567.3,199.1 569.0,199.1 570.8,199.1 572.5,199.1 574.2,199.0 575.7,198.9 577.0,198.7 577.8,198.5 578.5,198.4 579.1,198.2 579.7,198.0 580.3,197.8 580.9,197.5 581.5,197.2 582.0,196.9 582.5,196.6 583.0,196.2 583.5,195.8 583.9,195.4 584.3,194.9 584.7,194.5 585.1,194.0 585.5,193.5 585.9,193.0 586.2,192.5 586.5,192.0 586.8,191.4 587.1,190.8 587.4,190.3 587.7,189.6 588.0,189.0 588.4,188.1 588.7,187.2 589.0,186.2 589.3,185.1 589.6,184.1 589.9,183.0 590.2,182.0 590.5,181.0 590.8,180.1 591.0,179.1 591.2,178.2 591.4,177.3 591.7,176.4 591.9,175.4 592.1,174.5 592.3,173.5 592.5,172.4 592.8,171.2 593.0,170.0 593.3,168.8 593.5,167.5 593.8,166.3 594.0,165.1 594.2,164.0 594.4,163.0 594.6,162.1 594.7,161.2 594.9,160.3 595.1,159.4 595.3,158.4 595.4,157.5 595.6,156.5 595.8,155.2 596.0,153.8 596.1,152.4 596.3,151.0 596.5,149.5 596.7,148.2 596.9,146.9 597.2,145.8 597.4,145.1 597.6,144.5 597.8,143.9 598.0,143.4 598.2,142.9 598.4,142.4 598.7,141.9 599.0,141.5 599.3,141.2 599.6,140.9 600.0,140.6 600.4,140.4 600.8,140.2 601.2,139.9 601.5,139.6 601.9,139.3 602.3,138.8 602.8,138.2 603.2,137.6 603.6,136.9 604.0,136.2 604.4,135.5 604.8,134.8 605.2,134.2 605.6,133.6 605.9,132.9 606.3,132.2 606.6,131.5 607.0,130.9 607.3,130.4 607.6,130.1 608.0,129.9 608.3,129.9 608.6,130.0 608.9,130.2 609.1,130.5 609.4,130.8 609.7,131.2 610.0,131.6 610.2,132.0 610.6,132.8 610.9,133.9 611.2,135.0 611.5,136.3 611.7,137.7 611.9,139.1 612.1,140.5 612.4,141.9 612.7,143.7 613.0,145.5 613.3,147.4 613.6,149.4 614.0,151.4 614.3,153.4 614.6,155.3 615.0,157.2 615.4,158.9 615.7,160.6 616.1,162.3 616.5,164.0 616.9,165.7 617.3,167.3 617.8,168.9 618.3,170.4 618.8,171.8 619.2,173.1 619.7,174.5 620.2,175.8 620.8,177.1 621.4,178.2 622.0,179.3 622.7,180.2 623.3,180.8 623.9,181.4 624.6,182.0 625.3,182.5 625.9,182.9 626.6,183.2 627.3,183.4 628.0,183.5 628.7,183.4 629.3,183.2 630.0,182.9 630.6,182.5 631.3,182.0 631.9,181.4 632.5,180.8 633.1,180.2 633.8,179.4 634.4,178.4 634.9,177.4 635.5,176.3 636.0,175.1 636.5,173.9 637.0,172.7 637.5,171.5 638.1,170.1 638.6,168.6 639.2,167.1 639.7,165.5 640.3,164.0 640.8,162.4 641.3,160.9 641.9,159.4 642.4,158.0 643.0,156.6 643.5,155.1 644.0,153.7 644.6,152.3 645.1,151.0 645.7,149.7 646.3,148.5 646.8,147.6 647.3,146.7 647.9,145.8 648.4,145.0 649.0,144.2 649.5,143.4 650.1,142.6 650.7,141.9 651.2,141.3 651.8,140.7 652.3,140.2 652.9,139.7 653.4,139.2 653.9,138.7 654.5,138.1 655.0,137.5 655.6,136.7 656.1,135.9 656.7,135.1 657.2,134.2 657.7,133.3 658.3,132.4 658.8,131.6 659.4,130.9 659.9,130.3 660.4,129.6 660.9,129.0 661.4,128.4 662.0,127.8 662.5,127.4 662.9,127.1 663.4,127.0 663.8,127.1 664.1,127.3 664.5,127.6 664.8,127.9 665.1,128.4 665.4,128.9 665.7,129.4 666.0,129.9 666.4,130.8 666.8,131.9 667.1,133.1 667.4,134.3 667.7,135.7 668.0,137.0 668.3,138.4 668.6,139.7 669.0,141.1 669.3,142.6 669.7,144.2 670.1,145.7 670.5,147.2 670.8,148.7 671.2,150.2 671.5,151.7 671.8,153.0 672.1,154.2 672.3,155.5 672.6,156.7 672.8,157.9 673.1,159.1 673.3,160.4 673.6,161.6" fill="none" stroke="#0072bd" stroke-width="3.2" stroke-linejoin="round" stroke-linecap="butt"/><text x="442.50" y="188.90" class="p">(d)</text></g>
<g><line x1="152.82" y1="239.70" x2="152.82" y2="314.80" stroke="rgba(38,38,38,0.15)" stroke-width="2.6"/><line x1="234.04" y1="239.70" x2="234.04" y2="314.80" stroke="rgba(38,38,38,0.15)" stroke-width="2.6"/><line x1="315.26" y1="239.70" x2="315.26" y2="314.80" stroke="rgba(38,38,38,0.15)" stroke-width="2.6"/><line x1="71.60" y1="265.13" x2="331.50" y2="265.13" stroke="rgba(38,38,38,0.15)" stroke-width="2.6"/><rect x="71.60" y="239.70" width="259.90" height="75.10" fill="none" stroke="#262626" stroke-width="2.6"/><line x1="152.82" y1="239.70" x2="152.82" y2="242.90" stroke="#262626" stroke-width="2.6"/><line x1="152.82" y1="314.80" x2="152.82" y2="311.60" stroke="#262626" stroke-width="2.6"/><line x1="234.04" y1="239.70" x2="234.04" y2="242.90" stroke="#262626" stroke-width="2.6"/><line x1="234.04" y1="314.80" x2="234.04" y2="311.60" stroke="#262626" stroke-width="2.6"/><line x1="315.26" y1="239.70" x2="315.26" y2="242.90" stroke="#262626" stroke-width="2.6"/><line x1="315.26" y1="314.80" x2="315.26" y2="311.60" stroke="#262626" stroke-width="2.6"/><line x1="71.60" y1="265.13" x2="74.80" y2="265.13" stroke="#262626" stroke-width="2.6"/><line x1="331.50" y1="265.13" x2="328.30" y2="265.13" stroke="#262626" stroke-width="2.6"/><text x="71.60" y="339.50" text-anchor="middle" class="t">0.3</text><text x="152.82" y="339.50" text-anchor="middle" class="t">0.35</text><text x="234.04" y="339.50" text-anchor="middle" class="t">0.4</text><text x="315.26" y="339.50" text-anchor="middle" class="t">0.45</text><text x="66.20" y="322.70" text-anchor="end" class="t">0</text><text x="66.20" y="273.03" text-anchor="end" class="t">50</text><path d="M71.6,247.5 71.8,246.8 72.0,246.1 72.2,245.3 72.3,244.6 72.5,243.8 72.7,243.2 73.0,242.5 73.2,242.0 73.4,241.7 73.5,241.3 73.7,241.0 73.9,240.7 74.1,240.5 74.3,240.3 74.5,240.1 74.7,240.1 74.9,240.2 75.1,240.3 75.3,240.5 75.5,240.8 75.7,241.1 75.9,241.5 76.1,241.9 76.3,242.3 76.7,243.2 77.0,244.4 77.3,245.6 77.6,247.1 77.9,248.5 78.2,250.0 78.5,251.5 78.8,253.0 79.1,254.6 79.5,256.2 79.8,257.9 80.1,259.6 80.4,261.3 80.7,263.0 81.1,264.6 81.4,266.3 81.7,267.9 82.1,269.5 82.4,271.1 82.7,272.7 83.1,274.3 83.4,275.8 83.8,277.4 84.2,278.8 84.5,280.0 84.9,281.2 85.2,282.4 85.6,283.5 86.0,284.6 86.3,285.6 86.8,286.7 87.2,287.6 87.6,288.3 88.0,289.1 88.3,289.8 88.8,290.4 89.2,291.0 89.6,291.6 90.0,292.1 90.5,292.5 90.8,292.7 91.2,293.0 91.5,293.1 91.9,293.3 92.2,293.4 92.6,293.5 92.9,293.5 93.3,293.5 93.8,293.4 94.3,293.3 94.8,293.0 95.4,292.8 95.9,292.4 96.4,292.1 96.9,291.6 97.4,291.2 98.0,290.5 98.5,289.8 99.0,288.9 99.4,288.0 99.9,287.0 100.3,286.0 100.8,285.0 101.2,284.0 101.7,282.8 102.2,281.5 102.7,280.1 103.2,278.8 103.7,277.4 104.1,276.0 104.6,274.6 105.0,273.2 105.4,271.8 105.8,270.3 106.2,268.8 106.6,267.3 106.9,265.8 107.3,264.4 107.7,263.1 108.0,262.0 108.2,261.3 108.4,260.7 108.5,260.1 108.7,259.5 108.9,258.9 109.1,258.5 109.3,258.1 109.6,257.9 109.8,257.8 110.1,257.8 110.4,257.8 110.6,257.9 110.9,258.0 111.2,258.1 111.5,258.2 111.8,258.3 112.1,258.4 112.4,258.6 112.8,258.9 113.1,259.1 113.4,259.3 113.8,259.5 114.1,259.6 114.4,259.6 114.8,259.5 115.2,259.2 115.5,258.9 115.9,258.5 116.3,258.1 116.7,257.6 117.0,257.2 117.4,256.8 117.8,256.4 118.2,256.0 118.5,255.5 118.9,255.1 119.3,254.7 119.7,254.4 120.0,254.2 120.3,254.1 120.5,254.2 120.8,254.4 121.0,254.6 121.2,254.9 121.4,255.3 121.6,255.7 121.7,256.1 121.9,256.6 122.2,257.8 122.5,259.4 122.8,261.2 123.0,263.1 123.2,265.2 123.4,267.3 123.6,269.4 123.8,271.4 124.1,273.6 124.4,275.9 124.7,278.3 125.0,280.6 125.3,283.0 125.6,285.3 126.0,287.4 126.3,289.5 126.6,291.0 126.8,292.5 127.1,294.0 127.3,295.4 127.6,296.7 127.9,298.0 128.2,299.3 128.5,300.5 128.8,301.4 129.0,302.3 129.3,303.2 129.6,304.0 129.9,304.8 130.3,305.6 130.6,306.3 131.0,307.0 131.3,307.6 131.7,308.1 132.0,308.6 132.4,309.1 132.8,309.5 133.2,310.0 133.6,310.4 134.0,310.8 134.4,311.2 134.9,311.5 135.3,311.9 135.8,312.2 136.3,312.5 136.8,312.8 137.3,313.0 137.8,313.3 138.3,313.5 138.8,313.6 139.3,313.8 139.8,313.9 140.4,314.0 140.9,314.1 141.5,314.2 142.0,314.3 142.6,314.4 143.2,314.4 143.9,314.5 144.5,314.5 145.2,314.6 145.8,314.6 146.4,314.6 147.0,314.7 147.4,314.7 147.7,314.7 148.0,314.7 148.3,314.7 148.7,314.8 149.0,314.8 149.5,314.8 150.0,314.8 153.2,314.8 158.0,314.9 163.9,314.9 170.3,314.9 176.7,314.9 182.5,314.9 187.1,314.8 190.0,314.8 190.4,314.8 190.7,314.8 190.9,314.8 191.1,314.8 191.3,314.7 191.5,314.7 191.7,314.7 192.0,314.7 192.7,314.6 193.5,314.5 194.3,314.3 195.2,314.2 196.2,314.1 197.1,313.9 198.1,313.8 199.0,313.8 199.9,313.8 200.7,313.8 201.6,313.8 202.5,313.9 203.3,314.0 204.2,314.0 205.1,314.1 206.0,314.2 206.9,314.2 207.9,314.3 208.8,314.4 209.7,314.5 210.7,314.6 211.7,314.7 212.8,314.8 214.0,314.8 216.2,314.9 218.9,314.9 221.8,314.9 224.8,314.9 227.8,314.9 230.5,314.8 233.0,314.6 235.0,314.4 235.8,314.3 236.5,314.2 237.2,314.1 237.8,314.0 238.4,313.8 238.9,313.7 239.5,313.4 240.0,313.2 240.6,312.8 241.1,312.4 241.6,312.0 242.1,311.5 242.6,311.0 243.0,310.5 243.5,309.9 243.9,309.3 244.4,308.5 244.8,307.7 245.2,306.8 245.5,305.9 245.8,305.0 246.2,304.0 246.5,303.0 246.8,302.0 247.2,300.8 247.5,299.6 247.8,298.4 248.1,297.2 248.4,295.9 248.7,294.6 249.0,293.3 249.3,292.0 249.6,290.6 249.9,289.2 250.2,287.7 250.4,286.3 250.7,284.8 251.0,283.3 251.2,281.9 251.5,280.5 251.8,279.2 252.0,277.9 252.3,276.6 252.5,275.3 252.8,274.1 253.1,272.8 253.3,271.6 253.6,270.4 253.8,269.3 254.1,268.2 254.3,267.1 254.6,266.0 254.8,264.9 255.1,263.9 255.3,262.9 255.6,262.0 255.8,261.3 256.1,260.7 256.3,260.2 256.5,259.6 256.8,259.0 257.0,258.5 257.3,257.9 257.6,257.3 258.0,256.5 258.4,255.8 258.8,255.0 259.2,254.2 259.7,253.4 260.1,252.6 260.6,251.8 261.0,251.0 261.4,250.2 261.8,249.3 262.2,248.3 262.6,247.4 263.0,246.5 263.4,245.9 263.8,245.4 264.2,245.2 264.5,245.3 264.8,245.5 265.1,245.8 265.5,246.2 265.8,246.7 266.1,247.3 266.3,247.9 266.6,248.5 267.1,249.9 267.4,251.6 267.7,253.6 268.0,255.8 268.3,258.0 268.5,260.3 268.8,262.4 269.1,264.5 269.4,266.4 269.8,268.3 270.1,270.2 270.5,272.1 270.8,273.9 271.2,275.8 271.6,277.6 272.0,279.3 272.4,280.8 272.8,282.3 273.2,283.8 273.6,285.3 274.0,286.7 274.5,288.1 275.0,289.4 275.5,290.7 276.0,291.8 276.5,292.8 277.0,293.9 277.5,294.9 278.1,295.9 278.7,296.7 279.3,297.5 280.0,298.2 280.6,298.7 281.2,299.1 281.8,299.5 282.4,299.8 283.1,300.1 283.7,300.3 284.4,300.5 285.0,300.5 285.7,300.5 286.3,300.3 287.0,300.1 287.7,299.8 288.3,299.5 289.0,299.1 289.6,298.7 290.2,298.2 290.9,297.5 291.5,296.7 292.1,295.8 292.7,294.8 293.3,293.8 293.8,292.8 294.3,291.7 294.8,290.7 295.3,289.6 295.7,288.5 296.1,287.4 296.5,286.2 296.9,285.1 297.2,283.9 297.6,282.7 298.0,281.5 298.4,280.2 298.8,278.9 299.3,277.6 299.7,276.2 300.1,274.9 300.6,273.6 301.0,272.3 301.5,271.1 302.0,270.0 302.4,268.9 302.9,267.9 303.4,266.8 303.9,265.8 304.5,264.8 305.0,263.9 305.6,262.9 306.2,262.0 306.8,261.2 307.4,260.3 308.0,259.5 308.7,258.7 309.3,257.9 309.9,257.1 310.5,256.3 311.0,255.6 311.6,254.9 312.1,254.1 312.6,253.4 313.1,252.7 313.6,252.0 314.1,251.3 314.6,250.6 315.0,249.9 315.5,249.1 315.9,248.2 316.3,247.4 316.7,246.7 317.1,246.0 317.5,245.4 317.9,244.9 318.1,244.7 318.4,244.5 318.7,244.3 318.9,244.2 319.2,244.0 319.4,244.0 319.7,244.0 319.9,244.0 320.2,244.2 320.5,244.4 320.8,244.8 321.0,245.2 321.3,245.7 321.5,246.2 321.8,246.7 322.0,247.3 322.4,248.3 322.7,249.5 323.0,250.8 323.3,252.2 323.6,253.6 323.9,255.1 324.2,256.6 324.5,258.0 324.8,259.5 325.2,261.0 325.6,262.5 325.9,264.1 326.3,265.6 326.6,267.2 327.0,268.7 327.4,270.3 327.8,271.9 328.2,273.5 328.7,275.2 329.1,276.8 329.6,278.5 330.0,280.1 330.5,281.8 330.9,283.4" fill="none" stroke="#0072bd" stroke-width="3.2" stroke-linejoin="round" stroke-linecap="butt"/><text x="100.10" y="306.30" class="p">(e)</text></g>
<g><line x1="495.16" y1="239.70" x2="495.16" y2="314.80" stroke="rgba(38,38,38,0.15)" stroke-width="2.6"/><line x1="576.23" y1="239.70" x2="576.23" y2="314.80" stroke="rgba(38,38,38,0.15)" stroke-width="2.6"/><line x1="657.29" y1="239.70" x2="657.29" y2="314.80" stroke="rgba(38,38,38,0.15)" stroke-width="2.6"/><line x1="414.10" y1="262.65" x2="673.50" y2="262.65" stroke="rgba(38,38,38,0.15)" stroke-width="2.6"/><rect x="414.10" y="239.70" width="259.40" height="75.10" fill="none" stroke="#262626" stroke-width="2.6"/><line x1="495.16" y1="239.70" x2="495.16" y2="242.90" stroke="#262626" stroke-width="2.6"/><line x1="495.16" y1="314.80" x2="495.16" y2="311.60" stroke="#262626" stroke-width="2.6"/><line x1="576.23" y1="239.70" x2="576.23" y2="242.90" stroke="#262626" stroke-width="2.6"/><line x1="576.23" y1="314.80" x2="576.23" y2="311.60" stroke="#262626" stroke-width="2.6"/><line x1="657.29" y1="239.70" x2="657.29" y2="242.90" stroke="#262626" stroke-width="2.6"/><line x1="657.29" y1="314.80" x2="657.29" y2="311.60" stroke="#262626" stroke-width="2.6"/><line x1="414.10" y1="262.65" x2="417.30" y2="262.65" stroke="#262626" stroke-width="2.6"/><line x1="673.50" y1="262.65" x2="670.30" y2="262.65" stroke="#262626" stroke-width="2.6"/><text x="414.10" y="339.50" text-anchor="middle" class="t">0.3</text><text x="495.16" y="339.50" text-anchor="middle" class="t">0.35</text><text x="576.23" y="339.50" text-anchor="middle" class="t">0.4</text><text x="657.29" y="339.50" text-anchor="middle" class="t">0.45</text><text x="408.70" y="322.70" text-anchor="end" class="t">0</text><text x="408.70" y="270.55" text-anchor="end" class="t">50</text><path d="M414.3,240.0 414.5,240.6 414.8,241.2 415.0,241.7 415.3,242.3 415.5,242.9 415.7,243.5 416.0,244.1 416.2,244.8 416.5,245.8 416.8,247.0 417.1,248.2 417.4,249.4 417.7,250.7 417.9,252.0 418.2,253.3 418.5,254.6 418.8,256.1 419.1,257.6 419.4,259.2 419.7,260.7 420.0,262.3 420.3,263.9 420.7,265.5 421.0,267.0 421.3,268.5 421.7,270.0 422.0,271.5 422.4,272.9 422.8,274.4 423.1,275.8 423.5,277.2 423.9,278.6 424.2,279.8 424.6,281.0 424.9,282.1 425.3,283.2 425.7,284.3 426.0,285.4 426.5,286.4 426.9,287.4 427.3,288.2 427.7,289.0 428.1,289.7 428.6,290.5 429.0,291.2 429.5,291.8 429.9,292.3 430.4,292.8 430.7,293.1 431.0,293.3 431.4,293.5 431.7,293.7 432.0,293.8 432.4,293.9 432.7,294.0 433.1,294.0 433.5,294.0 434.0,293.8 434.4,293.7 434.9,293.5 435.4,293.2 435.8,292.9 436.3,292.6 436.7,292.2 437.2,291.7 437.7,291.1 438.1,290.5 438.5,289.7 439.0,289.0 439.4,288.2 439.8,287.4 440.2,286.6 440.7,285.5 441.3,284.4 441.8,283.2 442.3,281.9 442.8,280.7 443.3,279.4 443.8,278.1 444.3,276.8 444.8,275.4 445.2,274.0 445.7,272.5 446.1,271.0 446.5,269.5 446.9,268.1 447.3,266.8 447.8,265.5 448.1,264.5 448.5,263.6 448.8,262.6 449.1,261.7 449.5,260.8 449.9,260.1 450.3,259.5 450.8,259.0 451.2,258.8 451.7,258.7 452.1,258.6 452.6,258.6 453.1,258.7 453.6,258.7 454.1,258.7 454.6,258.6 455.0,258.5 455.5,258.4 455.9,258.2 456.4,258.1 456.8,257.9 457.2,257.7 457.6,257.5 458.0,257.2 458.4,256.9 458.7,256.4 459.1,255.9 459.4,255.4 459.8,255.0 460.1,254.6 460.4,254.3 460.7,254.2 460.9,254.2 461.2,254.4 461.4,254.5 461.7,254.8 461.9,255.1 462.1,255.4 462.3,255.7 462.5,256.1 462.8,257.0 463.1,258.1 463.4,259.3 463.6,260.7 463.8,262.2 463.9,263.7 464.1,265.3 464.3,266.8 464.6,268.9 464.8,271.1 465.0,273.4 465.3,275.8 465.5,278.2 465.8,280.5 466.0,282.8 466.3,285.0 466.6,286.8 466.8,288.6 467.1,290.4 467.4,292.1 467.7,293.8 468.0,295.4 468.3,297.0 468.7,298.5 469.0,299.6 469.3,300.7 469.6,301.8 470.0,302.8 470.3,303.8 470.7,304.8 471.1,305.7 471.5,306.5 471.9,307.1 472.2,307.7 472.6,308.3 473.0,308.9 473.5,309.4 473.9,309.9 474.3,310.4 474.8,310.8 475.2,311.2 475.7,311.5 476.1,311.9 476.6,312.2 477.0,312.5 477.5,312.8 478.0,313.0 478.5,313.3 479.0,313.5 479.5,313.7 480.1,313.8 480.6,314.0 481.2,314.1 481.8,314.2 482.4,314.3 483.0,314.4 483.8,314.5 484.5,314.6 485.3,314.7 486.1,314.7 486.9,314.7 487.8,314.7 488.9,314.8 490.0,314.8 493.4,314.9 497.7,314.9 502.7,315.0 508.0,315.0 513.3,315.0 518.3,315.0 522.6,314.9 526.0,314.8 527.1,314.7 528.2,314.6 529.1,314.5 529.9,314.4 530.7,314.3 531.5,314.2 532.2,314.1 533.0,314.0 533.7,314.0 534.3,314.0 534.9,314.1 535.5,314.1 536.1,314.2 536.7,314.2 537.3,314.2 538.0,314.3 538.8,314.3 539.7,314.4 540.6,314.5 541.5,314.6 542.4,314.6 543.3,314.7 544.2,314.8 545.0,314.8 545.6,314.8 546.2,314.8 546.8,314.8 547.3,314.8 547.9,314.8 548.5,314.8 549.2,314.8 550.0,314.8 552.5,314.8 555.7,314.9 559.5,314.9 563.4,314.9 567.4,314.9 571.2,314.9 574.5,314.7 577.0,314.4 577.9,314.3 578.7,314.1 579.5,313.9 580.2,313.7 580.8,313.5 581.4,313.3 581.9,313.0 582.5,312.6 583.0,312.3 583.4,311.9 583.8,311.5 584.2,311.0 584.5,310.6 584.9,310.1 585.2,309.5 585.6,309.0 586.1,308.3 586.5,307.5 587.0,306.7 587.4,305.9 587.9,305.1 588.3,304.2 588.7,303.2 589.0,302.3 589.3,301.1 589.6,299.9 589.8,298.6 590.0,297.3 590.2,296.0 590.4,294.7 590.6,293.3 590.8,292.0 591.1,290.6 591.3,289.3 591.6,287.9 591.8,286.5 592.1,285.1 592.4,283.7 592.6,282.4 592.9,281.0 593.2,279.7 593.4,278.3 593.7,277.0 593.9,275.6 594.2,274.3 594.4,273.0 594.7,271.7 594.9,270.4 595.1,269.3 595.3,268.2 595.5,267.1 595.7,266.0 596.0,264.9 596.2,263.9 596.4,262.9 596.6,262.0 596.8,261.3 596.9,260.7 597.1,260.0 597.2,259.4 597.4,258.8 597.6,258.2 597.8,257.6 598.0,257.0 598.3,256.4 598.5,255.7 598.8,255.1 599.2,254.5 599.5,253.8 599.8,253.2 600.2,252.6 600.5,252.0 600.8,251.4 601.2,250.8 601.5,250.2 601.8,249.6 602.2,249.0 602.5,248.5 602.9,248.0 603.2,247.5 603.5,247.2 603.7,246.8 604.0,246.4 604.3,246.1 604.5,245.8 604.8,245.6 605.0,245.4 605.3,245.4 605.6,245.5 605.9,245.7 606.2,246.0 606.5,246.5 606.7,246.9 607.0,247.5 607.3,248.0 607.5,248.6 607.9,249.8 608.2,251.3 608.5,253.0 608.8,254.8 609.0,256.7 609.2,258.6 609.5,260.5 609.8,262.3 610.1,264.2 610.5,266.2 610.8,268.3 611.2,270.3 611.6,272.3 612.0,274.3 612.4,276.3 612.8,278.2 613.2,279.9 613.6,281.5 613.9,283.2 614.3,284.8 614.7,286.3 615.2,287.8 615.7,289.3 616.2,290.7 616.7,291.8 617.2,293.0 617.7,294.0 618.3,295.1 618.8,296.1 619.4,297.0 620.0,297.9 620.7,298.6 621.2,299.1 621.8,299.6 622.3,300.1 622.9,300.5 623.5,300.8 624.1,301.1 624.7,301.3 625.3,301.4 626.0,301.4 626.7,301.3 627.4,301.1 628.2,300.8 628.9,300.4 629.7,300.0 630.3,299.6 631.0,299.1 631.7,298.4 632.4,297.7 633.1,296.8 633.7,295.9 634.3,295.0 634.9,294.0 635.4,293.0 636.0,292.0 636.6,291.0 637.1,289.9 637.7,288.8 638.2,287.7 638.7,286.6 639.2,285.4 639.8,284.2 640.3,283.0 641.0,281.4 641.6,279.8 642.3,278.1 642.9,276.3 643.6,274.6 644.3,272.9 645.0,271.2 645.7,269.7 646.3,268.5 647.0,267.3 647.7,266.2 648.3,265.1 649.0,264.0 649.7,262.9 650.4,261.9 651.0,260.8 651.6,259.8 652.2,258.8 652.8,257.7 653.3,256.7 653.9,255.7 654.4,254.8 655.0,253.8 655.5,252.8 656.0,251.9 656.4,250.9 656.9,249.8 657.3,248.8 657.8,247.9 658.2,247.1 658.6,246.4 659.0,246.0 659.2,245.9 659.3,245.8 659.5,245.7 659.6,245.7 659.8,245.6 660.0,245.6 660.1,245.7 660.3,245.7 660.6,245.8 660.9,246.0 661.2,246.3 661.5,246.6 661.8,247.0 662.1,247.4 662.3,247.8 662.6,248.3 663.0,249.3 663.4,250.5 663.7,251.9 664.0,253.5 664.3,255.1 664.6,256.7 664.9,258.3 665.2,259.9 665.6,261.7 666.0,263.6 666.5,265.5 666.9,267.4 667.4,269.4 667.9,271.3 668.3,273.2 668.8,275.0 669.2,276.7 669.7,278.5 670.2,280.3 670.7,282.0 671.2,283.7 671.6,285.2 672.0,286.5 672.4,287.5 672.5,287.8 672.7,288.1 672.8,288.3 672.9,288.5 673.0,288.7 673.2,288.9 673.3,289.1 673.4,289.3" fill="none" stroke="#0072bd" stroke-width="3.2" stroke-linejoin="round" stroke-linecap="butt"/><text x="443.40" y="305.80" class="p">(f)</text></g>
<text x="262.5" y="361.3" class="s" textLength="117" lengthAdjust="spacingAndGlyphs">Frequency</text>
<text x="394" y="361.3" class="s" textLength="70" lengthAdjust="spacingAndGlyphs">(THz)</text>
<text transform="translate(25.6,262.8) rotate(-90)" x="0" y="0" class="s" textLength="173.5" lengthAdjust="spacingAndGlyphs">Transmittance</text>
<text transform="translate(27.4,80.3) rotate(-90)" x="0" y="0" class="s" style="font-size:30.7px" textLength="39.3" lengthAdjust="spacingAndGlyphs">(%)</text>
</svg>
</body></html>
